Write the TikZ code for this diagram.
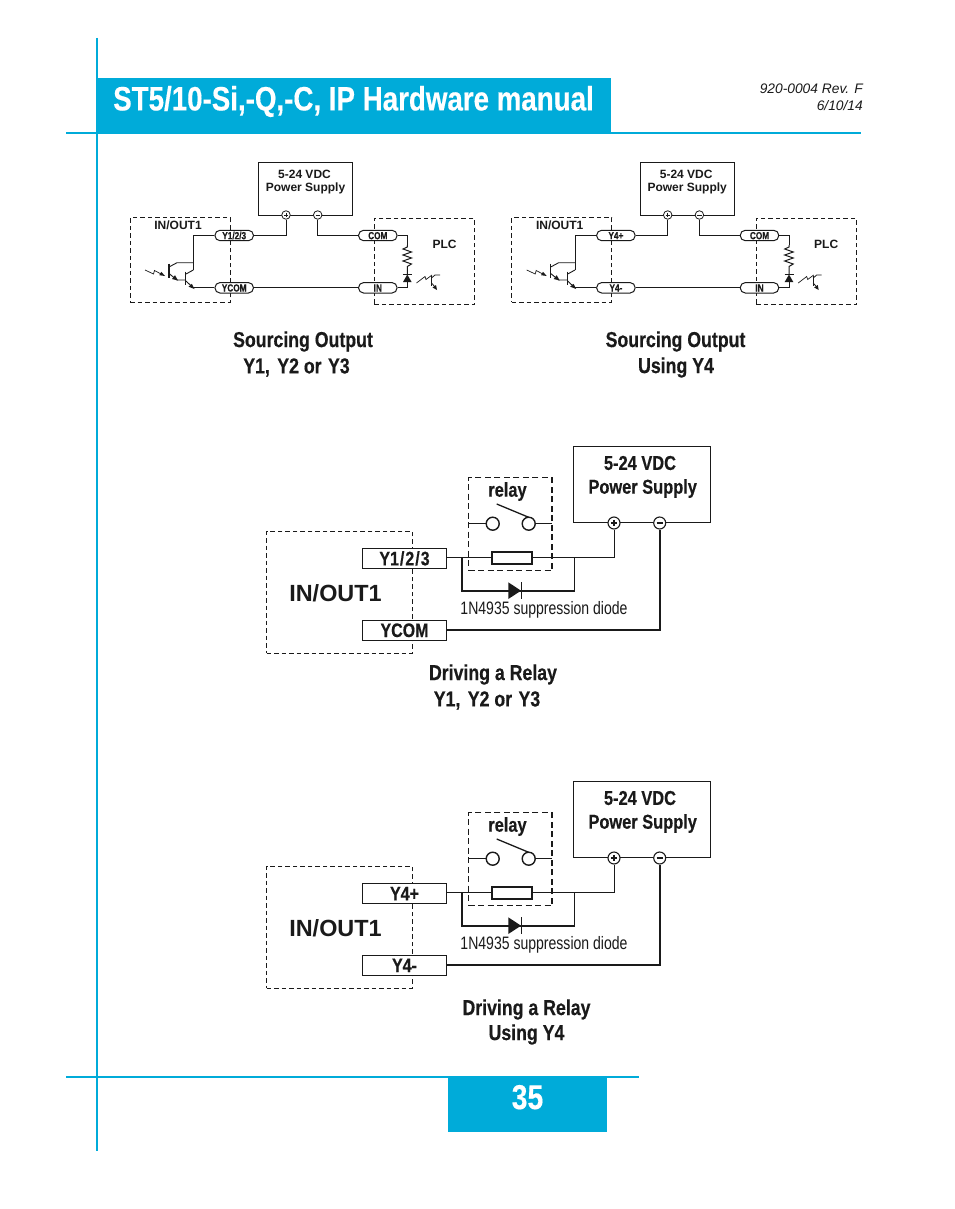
\documentclass[tikz,border=0pt]{standalone}
\usepackage{fontspec}
\setmainfont{Liberation Sans}
\newfontfamily\condf[FakeStretch=0.82,FakeBold=0.4]{Liberation Sans}
\newfontfamily\condp[FakeStretch=0.80,FakeBold=0.4]{Liberation Sans}
\newfontfamily\condl[FakeStretch=0.78]{Liberation Sans}
\definecolor{brand}{HTML}{00ABD9}
\definecolor{ink}{HTML}{1A1A1A}
\tikzset{
  wire/.style={draw=ink,line width=1pt},
  thickwire/.style={draw=ink,line width=1.9pt},
  dashbox/.style={draw=ink,line width=1pt,dash pattern=on 4.5pt off 3pt,inner sep=0pt},
  dashboxb/.style={draw=ink,line width=1.4pt,dash pattern=on 6pt off 3.5pt,inner sep=0pt},
  plainbox/.style={draw=ink,line width=1pt,inner sep=0pt,fill=white},
  pill/.style={draw=ink,line width=1pt,rounded corners=5pt,fill=white,minimum width=38.5pt,minimum height=10.4pt,inner sep=0pt,text height=7.4pt,text depth=0pt,font=\condp\bfseries\fontsize{10.3}{11}\selectfont,text=ink},
  tag/.style={draw=ink,line width=1pt,fill=white,minimum width=84.5pt,minimum height=19.6pt,inner sep=0pt,text height=13.6pt,text depth=0pt,font=\condf\bfseries\fontsize{19.5}{21}\selectfont,text=ink},
  termS/.style={circle,draw=ink,line width=.8pt,fill=white,minimum size=8.5pt,inner sep=0pt},
  termB/.style={circle,draw=ink,line width=1.1pt,fill=white,minimum size=12pt,inner sep=0pt},
  contact/.style={circle,draw=ink,line width=1.4pt,fill=white,minimum size=13pt,inner sep=0pt},
  smalltxt/.style={inner sep=0pt,font=\bfseries\fontsize{12}{13}\selectfont,text=ink},
  condtxt/.style={inner sep=0pt,font=\condf\bfseries\fontsize{20}{22}\selectfont,text=ink},
  captxt/.style={inner sep=0pt,font=\condf\bfseries\fontsize{21.6}{24}\selectfont,text=ink},
}
\newcommand{\topcircuit}[4]{%
\begin{scope}[shift={(#1,0)}]
  \node[plainbox,minimum width=94pt,minimum height=53pt] (ps#4) at (305.3,188.6) {};
  \node[smalltxt] (pst#4) at (304.5,174.5) {5-24 VDC};
  \node[smalltxt] (pss#4) at (305.5,188.5) {Power Supply};
  \node[dashbox,minimum width=100pt,minimum height=84.5pt] (io#4) at (180,260) {};
  \node[dashbox,minimum width=100pt,minimum height=86.5pt] (plc#4) at (424.3,261.7) {};
  \node[smalltxt] (iot#4) at (178,225.5) {IN/OUT1};
  \node[smalltxt] (plct#4) at (444.5,244) {PLC};
  \node[termS] (p#4) at (286,215) {};
  \node[termS] (m#4) at (317.7,215) {};
  \draw[line width=.7pt,ink] (283.8,215)--(288.2,215) (286,212.8)--(286,217.2) (315.5,215)--(319.9,215);
  \node[pill] (a#4) at (234.2,235.5) {#2};
  \node[pill] (b#4) at (234.2,287.8) {#3};
  \node[pill] (com#4) at (377.8,235.5) {COM};
  \node[pill] (in#4) at (377.8,287.8) {IN};
  \draw[wire] (a#4.east) -| (p#4.south);
  \draw[wire] (m#4.south) |- (com#4.west);
  \draw[wire] (b#4.east) -- (in#4.west);
  % PLC branch
  \coordinate (r1#4) at (407.3,245);
  \draw[wire] (com#4.east) -| (r1#4);
  \draw[wire] (r1#4) -- (407.3,247) -- (403,249) -- (411.5,252) -- (403,255) -- (411.5,258) -- (403,261) -- (411.5,264) -- (407.3,266.5) -- (407.3,274);
  \fill[ink] (403,282) -- (411.6,282) -- (407.3,274.5) -- cycle;
  \draw[line width=1pt,ink] (402.8,274.3) -- (411.8,274.3);
  \draw[wire] (407.3,282) |- (in#4.east);
  \draw[line width=.7pt,ink] (416.5,283) -- (425,276.5) -- (426,279.5) -- (432,275);
  \draw[line width=1pt,ink] (431.5,276) -- (431.5,286);
  \draw[line width=.8pt,ink] (431.5,278) -- (435,275) -- (440,275) (431.5,283) -- (435,287);
  \fill[ink] (437,290) -- (432.5,287.5) -- (436,285) -- cycle;
  % output transistors
  \coordinate (c2#4) at (193.3,270);
  \draw[wire] (a#4.west) -| (c2#4);
  \draw[line width=.9pt,ink] (193.3,270) -- (186,274);
  \draw[line width=1.1pt,ink] (185.7,271.5) -- (185.7,285);
  \draw[line width=.9pt,ink] (186,281) -- (193,287.7);
  \draw[wire] (193,287.8) -- (b#4.west);
  \fill[ink] (194.5,289) -- (188.5,286.7) -- (191.8,283.8) -- cycle;
  \draw[line width=.9pt,ink] (193.3,262.7) -- (177,262.7) -- (169,267);
  \draw[line width=1.1pt,ink] (169,263.5) -- (169,278);
  \draw[line width=.9pt,ink] (169,273.5) -- (177,280) -- (185.7,280);
  \fill[ink] (178,280.5) -- (172,279) -- (175,275.2) -- cycle;
  \draw[line width=.7pt,ink] (145,270) -- (153.5,274) -- (154.5,270.5) -- (162,274.5);
  \fill[ink] (165,276) -- (159.3,275.2) -- (161.3,271.8) -- cycle;
\end{scope}}
\newcommand{\relaycircuit}[4]{%
\begin{scope}[shift={(0,#1)}]
  \node[plainbox,minimum width=137pt,minimum height=75.5pt] (rps#4) at (642.2,484.3) {};
  \node[condtxt] (rpst#4) at (640,463) {5-24 VDC};
  \node[condtxt] (rpss#4) at (642.7,488.5) {Power Supply};
  \node[dashbox,minimum width=145.6pt,minimum height=122pt] (rio#4) at (339.5,592.3) {};
  \node[inner sep=0pt,font=\bfseries\fontsize{23.4}{25}\selectfont,text=ink] (riot#4) at (335.5,593) {IN/OUT1};
  \node[dashboxb,minimum width=83.3pt,minimum height=93pt] (rel#4) at (510.3,524.2) {};
  \node[condtxt] (relt#4) at (507.5,491.5) {relay};
  \node[termB] (rp#4) at (614,523) {};
  \node[termB] (rm#4) at (659.7,523) {};
  \draw[line width=1.1pt,ink] (610.8,523)--(617.2,523) (614,519.8)--(614,526.2) (656.5,523)--(662.9,523);
  \node[contact] (k1#4) at (492.7,523.7) {};
  \node[contact] (k2#4) at (528.7,523.7) {};
  \coordinate (kl#4) at (468.7,523.7);
  \coordinate (kr#4) at (552,523.7);
  \coordinate (arm1#4) at (496.7,504);
  \coordinate (arm2#4) at (528.7,517.3);
  \draw[wire] (kl#4) -- (k1#4.west);
  \draw[wire] (k2#4.east) -- (kr#4);
  \draw[line width=1.3pt,ink] (arm1#4) -- (arm2#4);
  \node[tag] (ra#4) at (404.5,558.5) {#2};
  \node[tag] (rb#4) at (404.5,630.2) {#3};
  \node[draw=ink,line width=1.8pt,fill=white,minimum width=40pt,minimum height=12pt,inner sep=0pt] (coil#4) at (511.7,557.6) {};
  \draw[wire] (ra#4.east |- coil#4.west) -- (coil#4.west);
  \draw[wire] (coil#4.east) -| (rp#4.south);
  \coordinate (dl#4) at (462,557.6);
  \coordinate (dr#4) at (574.5,557.6);
  \coordinate (dm#4) at (515,590.7);
  \draw[thickwire] (dl#4) |- (dm#4) -| (dr#4);
  \fill[ink] (508.3,582.3) -- (521,590.7) -- (508.3,599) -- cycle;
  \draw[line width=1.1pt,ink] (521.3,582.3) -- (521.3,599);
  \node[inner sep=0pt,font=\condl\fontsize{18}{20}\selectfont,text=ink] (dt#4) at (544,610) {1N4935 suppression diode};
  \draw[thickwire] (rb#4.east) -| (rm#4.south);
\end{scope}}
\begin{document}
\begin{tikzpicture}[x=1pt,y=-1pt]
\useasboundingbox (0,0) rectangle (954,1209);
\fill[white] (0,0) rectangle (954,1209);
% page furniture
\node[fill=brand,minimum width=514pt,minimum height=56pt,inner sep=0pt] (hdr) at (354,106) {};
\node[inner sep=0pt,text=white,font=\condf\bfseries\fontsize{33.8}{38}\selectfont] (title) at (353.5,101.5) {ST5/10-Si,-Q,-C, IP Hardware manual};
\draw[brand,line width=2pt] (97,38) -- (97,1151);
\draw[brand,line width=2pt] (66,133) -- (861,133);
\draw[brand,line width=2pt] (66,1077) -- (639,1077);
\node[fill=brand,minimum width=159pt,minimum height=55pt,inner sep=0pt] (pg) at (527.5,1104.5) {};
\node[inner sep=0pt,text=white,font=\condf\bfseries\fontsize{34.5}{38}\selectfont] (pgn) at (527.5,1097.2) {35};
\node[anchor=east,inner sep=0pt,text=ink,font=\itshape\fontsize{13.8}{16}\selectfont] (rev) at (863,88.5) {920-0004 Rev. F};
\node[anchor=east,inner sep=0pt,text=ink,font=\itshape\fontsize{13.8}{16}\selectfont] (dat) at (863,105.5) {6/10/14};
% circuits
\topcircuit{0}{Y1/2/3}{YCOM}{A}
\topcircuit{381.7}{Y4+}{Y4-}{B}
\relaycircuit{0}{Y1\kern1pt/\kern1pt2\kern1pt/\kern1pt3}{YCOM}{A}
\relaycircuit{335}{Y4+}{Y4-}{B}
% captions
\node[captxt] (c1) at (303,341.5) {Sourcing Output};
\node[captxt] (c2) at (296.5,367.5) {Y1,\kern2.5pt\ Y2 or\kern1.5pt\ Y3};
\node[captxt] (c3) at (675.5,341.5) {Sourcing Output};
\node[captxt] (c4) at (676,367.5) {Using Y4};
\node[captxt] (c5) at (493,674.5) {Driving a Relay};
\node[captxt] (c6) at (487,700.5) {Y1,\kern2.5pt\ Y2 or\kern1.5pt\ Y3};
\node[captxt] (c7) at (526.5,1009.5) {Driving a Relay};
\node[captxt] (c8) at (526.5,1034.5) {Using Y4};
\end{tikzpicture}
\end{document}
